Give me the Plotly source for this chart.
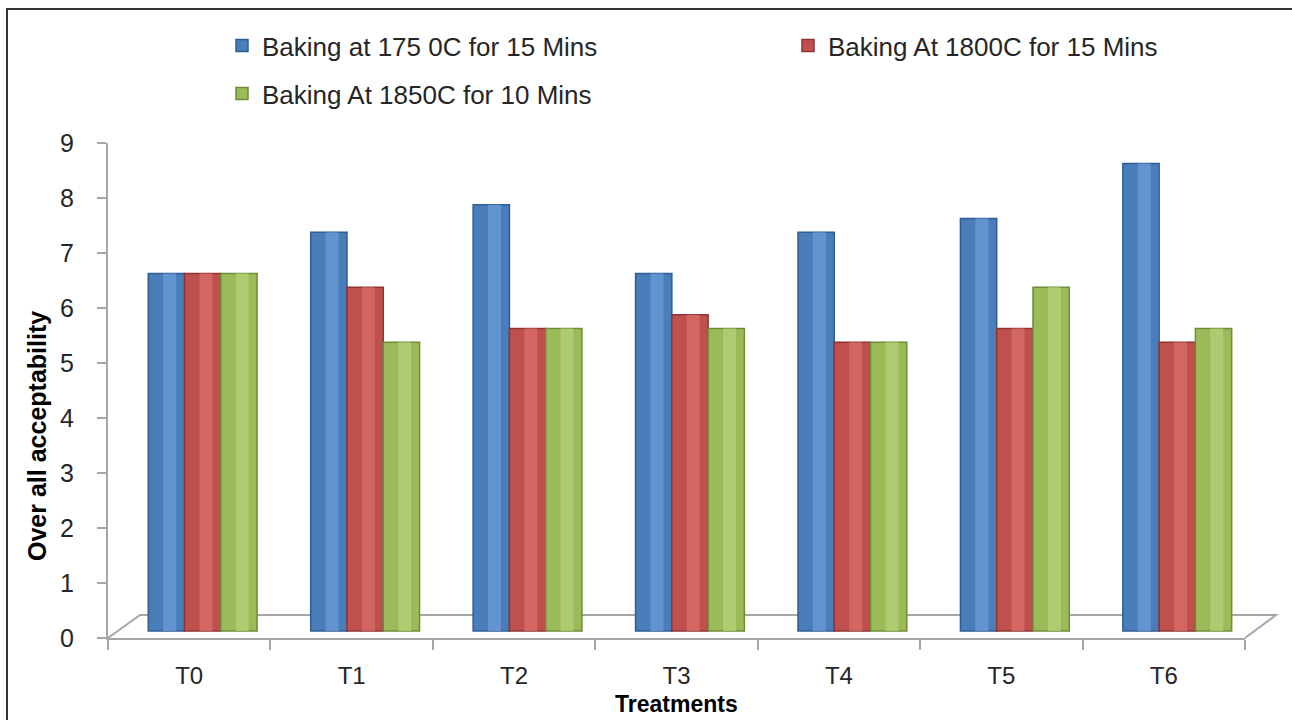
import plotly.graph_objects as go

treatments = ["T0", "T1", "T2", "T3", "T4", "T5", "T6"]
series_names = ["Baking at 175 0C for 15 Mins", "Baking At 1800C for 15 Mins", "Baking At 1850C for 10 Mins"]
bake_175 = [6.5, 7.25, 7.75, 6.5, 7.25, 7.5, 8.5]
bake_180 = [6.5, 6.25, 5.5, 5.75, 5.25, 5.5, 5.25]
bake_185 = [6.5, 5.25, 5.5, 5.5, 5.25, 6.25, 5.5]
y_ticks = list(range(0, 10))

series = [bake_175, bake_180, bake_185]
base_colors = ["#4A7EBB", "#C0504D", "#9BBB59"]
edge_colors = ["#2F5D92", "#8E3533", "#6F8C3A"]
light_colors = ["#6A9AD4", "#D66C69", "#B2D075"]

# plot-area geometry (pixels) used for decorations
W, H = 1292, 720
L, R, T, B = 108, 47, 143, 82
pw, ph = W - L - R, H - T - B
def px(x):
    return (x - L) / pw
def py(y):
    return (H - B - y) / ph

fig = go.Figure()
legend_ids = ["legend", "legend2", "legend3"]
for i, (name, vals) in enumerate(zip(series_names, series)):
    fig.add_trace(go.Bar(
        x=treatments, y=vals, name=name,
        xaxis="x", yaxis="y",
        marker=dict(color=base_colors[i], line=dict(color=edge_colors[i], width=1.5)),
        legend=legend_ids[i],
    ))
# cylinder highlight (same data, narrower, lighter)
for i, vals in enumerate(series):
    fig.add_trace(go.Bar(
        x=treatments, y=vals, showlegend=False, hoverinfo="skip",
        xaxis="x3", yaxis="y", width=0.08,
        marker=dict(color=light_colors[i], line=dict(width=0), opacity=0.8),
    ))
# carrier trace for the visible labelled axes
fig.add_trace(go.Scatter(
    x=list(range(len(treatments))), y=bake_175, xaxis="x2", yaxis="y2",
    mode="markers", marker=dict(opacity=0), showlegend=False, hoverinfo="skip",
))

axis_gray = "#A6A6A6"
leg_font = dict(size=26, color="#262626")
fig.update_layout(
    width=W, height=H,
    margin=dict(l=L, r=R, t=T, b=B, autoexpand=False),
    paper_bgcolor="white", plot_bgcolor="rgba(0,0,0,0)",
    barmode="group", bargap=0.33, bargroupgap=0,
    font=dict(family="Liberation Sans, Arial, sans-serif", color="#262626"),
    xaxis=dict(type="category", categoryarray=treatments,
               range=[-0.583, 6.417], visible=False, fixedrange=True),
    xaxis3=dict(type="category", categoryarray=treatments, overlaying="x",
                range=[-0.603, 6.397], visible=False),
    yaxis=dict(range=[-0.127, 8.873], visible=False),
    xaxis2=dict(
        overlaying="x", anchor="y2", side="bottom",
        range=[-0.5, 6.5], tickvals=list(range(len(treatments))), ticktext=treatments,
        ticks="", showgrid=False, zeroline=False,
        showline=True, linecolor=axis_gray, linewidth=2,
        minor=dict(tickvals=[i - 0.5 for i in range(len(treatments) + 1)], ticks="outside",
                   ticklen=10, tickcolor=axis_gray, tickwidth=2, showgrid=False),
        tickfont=dict(size=24, color="#262626"), ticklabelstandoff=15,
    ),
    yaxis2=dict(
        overlaying="y", anchor="x2", side="left",
        range=[0, 9], tickvals=y_ticks, ticks="outside", ticklen=9, tickwidth=2,
        tickcolor=axis_gray, showgrid=False, zeroline=False,
        showline=True, linecolor=axis_gray, linewidth=2,
        tickfont=dict(size=25, color="#262626"), ticklabelstandoff=18,
    ),
    legend=dict(orientation="h", x=px(222), y=py(22), xanchor="left", yanchor="top",
                font=leg_font, bgcolor="rgba(0,0,0,0)", itemwidth=30),
    legend2=dict(orientation="h", x=px(788), y=py(22), xanchor="left", yanchor="top",
                 font=leg_font, bgcolor="rgba(0,0,0,0)", itemwidth=30),
    legend3=dict(orientation="h", x=px(222), y=py(70), xanchor="left", yanchor="top",
                 font=leg_font, bgcolor="rgba(0,0,0,0)", itemwidth=30),
    annotations=[
        dict(text="<b>Over all acceptability</b>", xref="paper", yref="paper",
             x=px(37), y=py(436), xanchor="center", yanchor="middle", textangle=-90,
             showarrow=False, font=dict(size=25, color="#000")),
        dict(text="<b>Treatments</b>", xref="paper", yref="paper",
             x=0.5, y=py(704), xanchor="center", yanchor="middle",
             showarrow=False, font=dict(size=23, color="#000")),
    ],
    shapes=[
        # 3D floor outline
        dict(type="path", xref="paper", yref="paper",
             path=f"M {px(108)},{py(638)} L {px(140)},{py(615)} L {px(1276)},{py(615)} L {px(1245)},{py(638)}",
             line=dict(color=axis_gray, width=2), layer="below"),
        # outer frame
        dict(type="rect", xref="paper", yref="paper",
             x0=px(7), y0=py(730), x1=px(1310), y1=py(9),
             line=dict(color="#333333", width=2)),
    ],
)

fig.write_html("out.html", config={"displayModeBar": False},
               post_script="document.body.style.margin='0px';")
